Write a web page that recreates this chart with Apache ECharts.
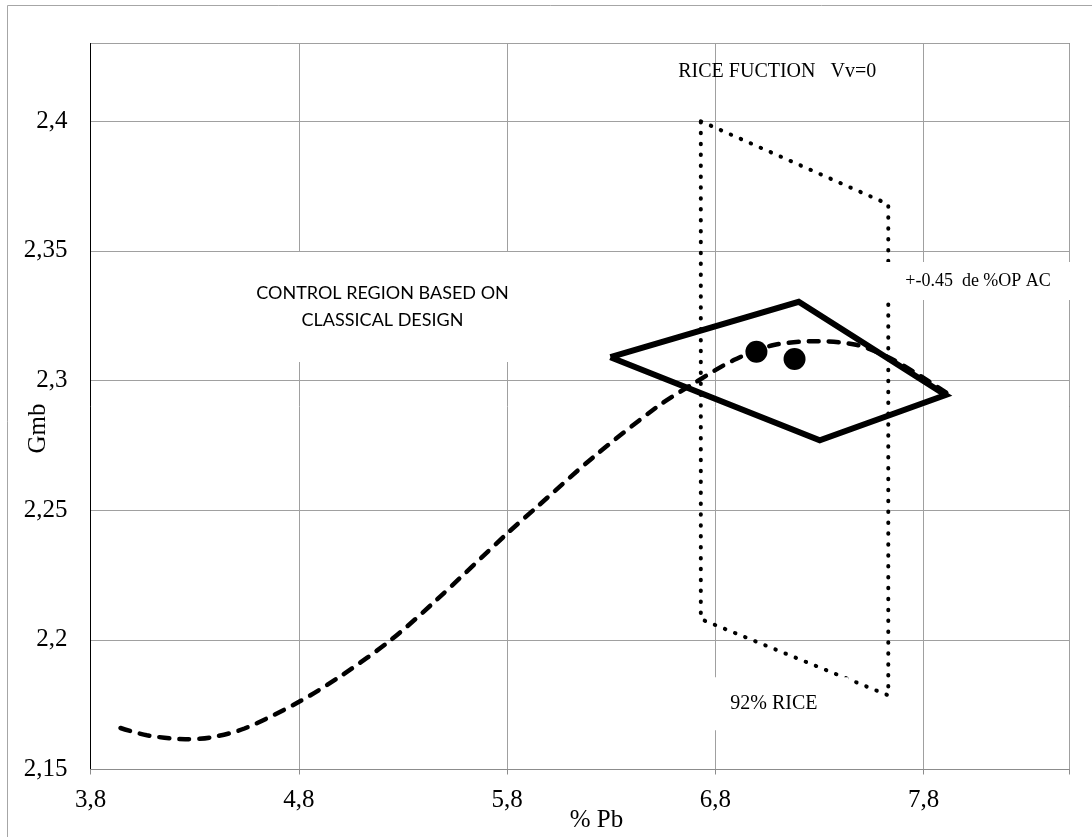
<!DOCTYPE html>
<html><head><meta charset="utf-8">
<script src="https://cdn.jsdelivr.net/npm/echarts@6/dist/echarts.min.js"></script>
<style>html,body{margin:0;padding:0;background:#fff}#c{width:1092px;height:837px}</style>
</head><body><div id="c"></div><script>
// ---- data ----
const curveX = [3.944, 4.071, 4.255, 4.372, 4.539, 4.801, 5.008, 5.243, 5.460, 5.800, 5.944, 6.216, 6.521, 6.696, 6.888, 7.080, 7.289, 7.481, 7.625, 7.752, 7.937];
const curveY = [2.1660, 2.1632, 2.1617, 2.1623, 2.1658, 2.1761, 2.1864, 2.2000, 2.2153, 2.2410, 2.2513, 2.2706, 2.2899, 2.2989, 2.3079, 2.3137, 2.3152, 2.3137, 2.3092, 2.3034, 2.2938];
const diamondX = [6.296, 7.200, 7.905, 7.301, 6.296];
const diamondY = [2.309, 2.3304, 2.2944, 2.277, 2.309];
const pointX = [6.997, 7.180];
const pointY = [2.3111, 2.3083];
const riceX = [6.73, 7.63, 7.63, 6.73, 6.73];
const riceY = [2.400, 2.368, 2.1786, 2.208, 2.400];
const noteTexts = ['CONTROL REGION BASED ON\nCLASSICAL DESIGN', 'RICE FUCTION   Vv=0', '+-0.45  de %OP AC', '92% RICE'];
const noteX = [5.202, 7.097, 8.061, 7.081];
const noteY = [2.3284, 2.4191, 2.3384, 2.1754];
const xMin = 3.8, xMax = 8.5, xStep = 1;
const yMin = 2.15, yMax = 2.43, yStep = 0.05;
const xTitle = '% Pb', yTitle = 'Gmb';

// ---- chart ----
const zip = (xs, ys) => xs.map((x, i) => [x, ys[i]]);
const serif = '"Liberation Serif", "Times New Roman", serif';
const noteStyles = [
  {fontFamily: 'Lato, "Open Sans", sans-serif', fontSize: 18, lineHeight: 27, width: 248, padding: [12, 6, 44, 6]},
  {fontFamily: serif, fontSize: 20, lineHeight: 24, width: 220, padding: 0, backgroundColor: 'transparent'},
  {fontFamily: serif, fontSize: 18, lineHeight: 18, width: 188, padding: [10, 0, 10, 0]},
  {fontFamily: serif, fontSize: 20, lineHeight: 21, width: 149, padding: [16, 0, 16, 0]}
];
const isStep = (v, m, s) => { const k = (v - m) / s; return Math.abs(k - Math.round(k)) < 1e-6; };
const fmt = v => String(+v.toFixed(4)).replace('.', ',');

const chart = echarts.init(document.getElementById('c'), null, {renderer: 'canvas'});
chart.setOption({
  backgroundColor: '#fff',
  animation: false,
  graphic: [{type: 'rect', shape: {x: 7.5, y: 5.5, width: 1200, height: 1000}, style: {fill: 'none', stroke: '#a6a6a6', lineWidth: 1}, z: 0, silent: true}],
  grid: {left: 90.5, right: 22.5, top: 43.5, bottom: 67.5, containLabel: false, outerBoundsMode: 'none', show: true, borderColor: '#3a3a3a', borderWidth: 1, backgroundColor: 'transparent'},
  xAxis: {
    type: 'value', min: xMin, max: xMax, interval: xStep,
    name: xTitle, nameLocation: 'middle', nameGap: 38, nameMoveOverlap: false,
    nameTextStyle: {fontFamily: serif, fontSize: 25, color: '#000', padding: [0, 0, 0, 33]},
    axisLine: {show: true, lineStyle: {color: '#8c8c8c', width: 1}},
    axisTick: {show: true, length: 5, lineStyle: {color: '#8c8c8c'}},
    splitLine: {show: true, lineStyle: {color: '#a0a0a0', width: 1}},
    axisLabel: {margin: 18, fontFamily: serif, fontSize: 25, color: '#000', formatter: v => isStep(v, xMin, xStep) ? fmt(v) : ''}
  },
  yAxis: {
    type: 'value', min: yMin, max: yMax, interval: yStep,
    name: yTitle, nameLocation: 'middle', nameGap: 40, nameMoveOverlap: false,
    nameTextStyle: {fontFamily: serif, fontSize: 25, color: '#000', padding: [0, 44, 0, 0]},
    axisLine: {show: true, lineStyle: {color: '#000', width: 1}},
    axisTick: {show: false},
    splitLine: {show: true, lineStyle: {color: '#a0a0a0', width: 1}},
    axisLabel: {margin: 23, fontFamily: serif, fontSize: 25, color: '#000', formatter: v => isStep(v, yMin, yStep) && v < yMax - 1e-6 ? fmt(v) : ''}
  },
  series: [
    {type: 'line', name: 'curve', data: zip(curveX, curveY), smooth: 0.3, showSymbol: false, symbol: 'none', silent: true, z: 2,
     lineStyle: {color: '#000', width: 4.5, type: [10, 10], cap: 'round'}},
    {type: 'line', name: 'control', data: zip(diamondX, diamondY), showSymbol: false, symbol: 'none', silent: true, z: 3,
     lineStyle: {color: '#000', width: 6, join: 'miter'}},
    {type: 'line', name: 'rice', data: zip(riceX, riceY), showSymbol: false, symbol: 'none', silent: true, z: 4,
     lineStyle: {color: '#000', width: 4, type: [0.5, 10.4], cap: 'round'}},
    {type: 'scatter', name: 'points', data: zip(pointX, pointY), symbol: 'circle', symbolSize: 22, silent: true, z: 5,
     itemStyle: {color: '#000', opacity: 1}},
    {type: 'scatter', name: 'notes', silent: true, z: 20, symbolSize: 1, itemStyle: {color: 'rgba(0,0,0,0)', opacity: 1},
     data: noteTexts.map((t, i) => ({
       value: [noteX[i], noteY[i]],
       label: Object.assign({show: true, position: 'inside', formatter: t, color: '#000', opacity: 1, align: 'center', verticalAlign: 'middle', backgroundColor: '#fff'}, noteStyles[i])
     }))}
  ]
});
</script></body></html>
